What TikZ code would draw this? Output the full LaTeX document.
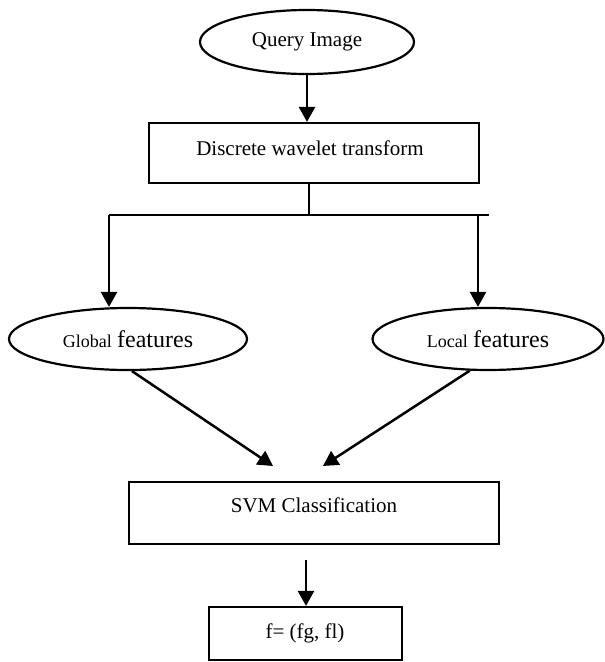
\documentclass[tikz,border=0pt]{standalone}
\usepackage{fontspec}
\setmainfont{Liberation Serif}
\usetikzlibrary{shapes.geometric,arrows.meta}
\begin{document}
\begin{tikzpicture}[x=1pt,y=-1pt,
  every node/.style={font=\fontsize{21}{25}\selectfont},
  oval/.style={draw,line width=2.2pt,ellipse,inner sep=0pt},
  box/.style={draw,line width=2.2pt,rectangle,inner sep=0pt},
  lbl/.style={inner sep=0pt},
  conn/.style={line width=2.5pt},
  arr/.style={conn,-{Triangle[length=15pt,width=16pt]}}]
\useasboundingbox (0,0) rectangle (605,662);

% nodes
\node[oval,minimum width=214pt,minimum height=64pt] (query) at (307,42) {Query Image};
\node[box,minimum width=330pt,minimum height=60pt] (dwt) at (314,153) {};
\node[lbl] (dwtlabel) at (310,148) {Discrete wavelet transform};
\node[oval,minimum width=238pt,minimum height=62pt] (global) at (128,339)
  {{\fontsize{18}{20}\selectfont Global} {\fontsize{24}{28}\selectfont features}};
\node[oval,minimum width=231pt,minimum height=62pt] (local) at (488,339)
  {{\fontsize{18}{20}\selectfont Local} {\fontsize{24}{28}\selectfont features}};
\node[box,minimum width=370pt,minimum height=62pt] (svm) at (314,513) {};
\node[lbl] (svmlabel) at (314,505.5) {SVM Classification};
\node[box,minimum width=193pt,minimum height=53pt] (final) at (305.5,633.5) {};
\node[lbl] (finallabel) at (305,633) {f= (fg, fl)};

% branch points
\coordinate (split) at (309,215);
\coordinate (bl) at (109,215);
\coordinate (br) at (489,215);
\coordinate (brd) at (478,215);
\coordinate (svmL) at (273,466);
\coordinate (svmR) at (323,466);
\coordinate (svmout) at (306,560);

% connectors
\draw[arr] (query.south) -- (query.south |- dwt.north);
\draw[conn] (split |- dwt.south) -- (split);
\draw[conn] (bl) -- (br);
\draw[arr] (bl) -- (bl |- global.north);
\draw[arr] (brd) -- (brd |- local.north);
\draw[arr] (global.-83) -- (svmL);
\draw[arr] (local.240) -- (svmR);
\draw[arr] (svmout) -- (svmout |- final.north);
\end{tikzpicture}
\end{document}
